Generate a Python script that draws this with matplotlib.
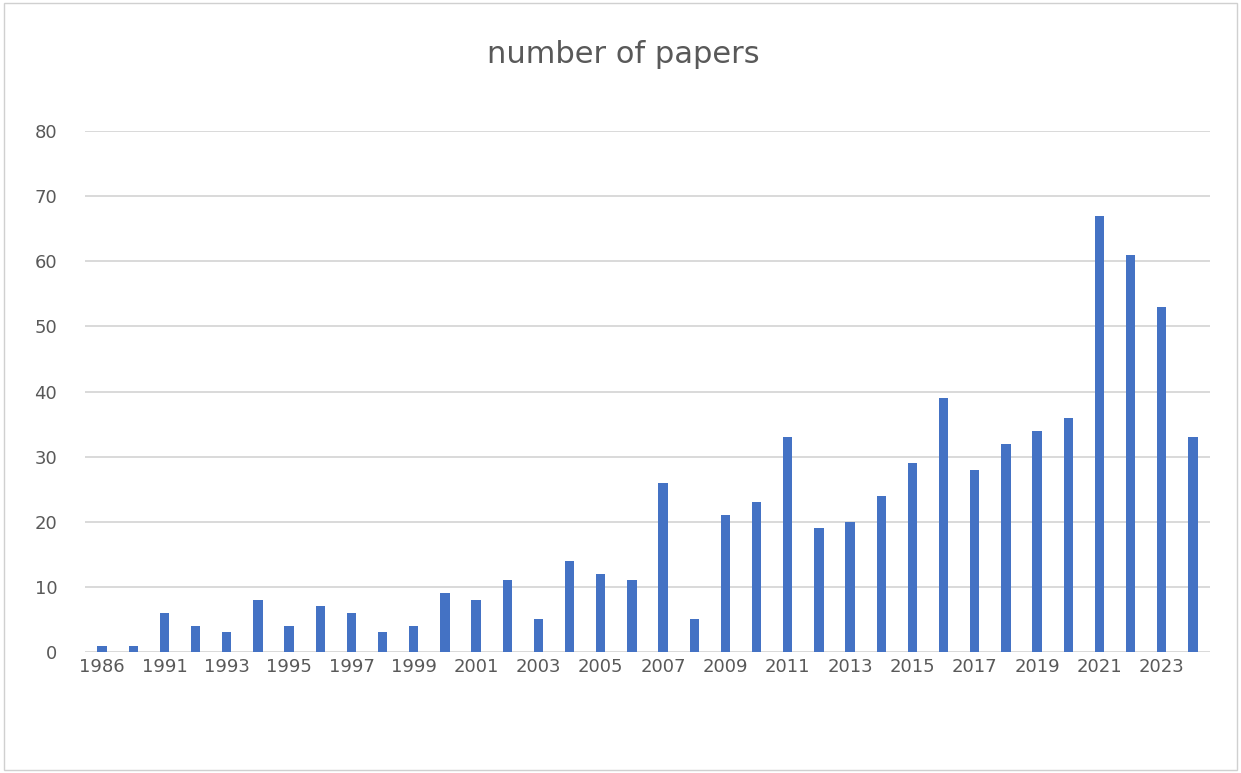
import numpy as np
import matplotlib
matplotlib.use("Agg")
import matplotlib.pyplot as plt
from matplotlib.patches import Rectangle

# data
years = ["1986", "1990", "1991", "1992", "1993", "1994", "1995", "1996", "1997",
         "1998", "1999", "2000", "2001", "2002", "2003", "2004", "2005", "2006",
         "2007", "2008", "2009", "2010", "2011", "2012", "2013", "2014", "2015",
         "2016", "2017", "2018", "2019", "2020", "2021", "2022", "2023", "2024"]
papers = [1, 1, 6, 4, 3, 8, 4, 7, 6, 3, 4, 9, 8, 11, 5, 14, 12, 11, 26, 5, 21,
          23, 33, 19, 20, 24, 29, 39, 28, 32, 34, 36, 67, 61, 53, 33]
yticks = [0, 10, 20, 30, 40, 50, 60, 70, 80]

gray = "#595959"
fig = plt.figure(figsize=(12.41, 7.73), dpi=100)
ax = fig.add_axes([0.0685, 0.1565, 0.9065, 0.674])

x = np.arange(len(years))
ax.bar(x, papers, width=0.3, color="#4472C4", zorder=3)

ax.set_ylim(0, 80)
ax.set_xlim(-0.55, len(years) - 0.45)
ax.set_yticks(yticks)
ax.yaxis.grid(True, color="#D9D9D9", linewidth=1.4, zorder=0)
for s in ax.spines.values():
    s.set_visible(False)
ax.set_xticks(x)
ax.set_xticklabels([y if i % 2 == 0 else "" for i, y in enumerate(years)])
ax.tick_params(axis="both", length=0, labelsize=13, labelcolor=gray)
ax.tick_params(axis="y", pad=20)
ax.tick_params(axis="x", pad=4)

fig.text(0.502, 0.929, "number of papers", ha="center", va="center",
         fontsize=22, color=gray)

fig.patches.append(Rectangle((0.003, 0.004), 0.994, 0.992, transform=fig.transFigure,
                             fill=False, edgecolor="#D0D0D0", linewidth=1))

fig.savefig("out.png", dpi=100)
